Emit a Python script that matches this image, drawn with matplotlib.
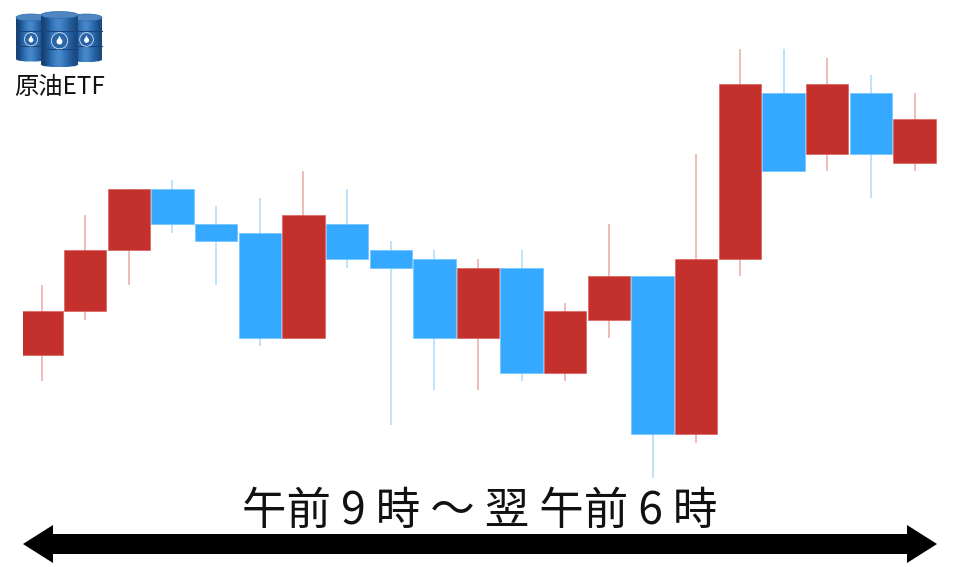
import numpy as np
import matplotlib
matplotlib.use('Agg')
import matplotlib.pyplot as plt
from matplotlib.patches import Rectangle, Polygon, Ellipse, PathPatch, Circle
from matplotlib.path import Path

plt.rcParams['font.family'] = ['Noto Sans CJK JP', 'DejaVu Sans']

# price levels (arbitrary units)
body_low  = [14, 19, 26, 29, 27, 16, 16, 25, 24, 16, 16, 12, 12, 18,  5,  5, 25, 35, 37, 37, 36]
body_high = [19, 26, 33, 33, 29, 28, 30, 29, 26, 25, 24, 24, 19, 23, 23, 25, 45, 44, 45, 44, 41]
wick_low  = [11, 18, 22, 28, 22, 15, 16, 24,  6, 10, 10, 11, 11, 16,  0,  4, 23, 35, 35, 32, 35]
wick_high = [22, 30, 33, 34, 31, 32, 35, 33, 27, 26, 25, 26, 20, 29, 23, 37, 49, 49, 48, 46, 44]
kinds     = ['r','r','r','b','b','b','r','b','b','b','r','b','r','r','b','r','r','b','r','b','r']
title_text = '午前 9 時 ～ 翌 午前 6 時'
icon_label = '原油ETF'

RED, BLUE = '#C4302B', '#35A9FF'
WICK = {'r': '#E8A9A6', 'b': '#A8DDFB'}
FILL = {'r': RED, 'b': BLUE}
EDGE = {'r': '#D9605C', 'b': '#6FC2FF'}

W, H = 960, 567
fig = plt.figure(figsize=(W/100, H/100), dpi=100, facecolor='white')

def axes_px(x0, y0, x1, y1, **kw):
    return fig.add_axes([x0/W, 1-y1/H, (x1-x0)/W, (y1-y0)/H], **kw)

# candle axes: left edge at 23 px trims the first body, as in the reference
step = 43.65
first = 41.5
unit = 8.75
base = 477.5
ax = axes_px(23, 0, W, H)
ax.set_xlim((23-first)/step, (W-first)/step)
ax.set_ylim((base-H)/unit, base/unit)
ax.axis('off')
xs = np.arange(len(kinds))
for x, lo, hi, wl, wh, k in zip(xs, body_low, body_high, wick_low, wick_high, kinds):
    ax.plot([x, x], [wl, wh], color=WICK[k], lw=1.1, solid_capstyle='butt', zorder=1)
    ax.add_patch(Rectangle((x-0.485, lo), 0.97, hi-lo, facecolor=FILL[k], edgecolor=EDGE[k], lw=0.5, zorder=2))

ov = axes_px(0, 0, W, H)
ov.set_xlim(0, W); ov.set_ylim(H, 0); ov.axis('off'); ov.patch.set_alpha(0)

ov.text(480, 510.5, title_text, ha='center', va='center', fontsize=32, color='#111111')
ov.text(59.5, 87, icon_label, ha='center', va='center', fontsize=17.5, color='#111111')

ov.add_patch(Polygon([(23, 544), (53, 525), (53, 534), (907, 534), (907, 525), (937, 544),
                      (907, 563), (907, 554), (53, 554), (53, 563)], closed=True,
                     facecolor='black', edgecolor='none'))

grad = np.array([[0.0, 0.35, 0.75, 1.0, 0.6, 0.35, 0.1]])
cmap = matplotlib.colors.LinearSegmentedColormap.from_list('b', ['#163F73', '#2C6CB0', '#4C8FD0'])

def barrel(x0, x1, top, bot, z):
    cx = (x0+x1)/2; rx = (x1-x0)/2; ry = 3.5
    verts = [(x0, top), (x1, top), (x1, bot), (cx+rx, bot+ry), (cx-rx, bot+ry), (x0, bot), (x0, top)]
    codes = [Path.MOVETO, Path.LINETO, Path.LINETO, Path.CURVE4, Path.CURVE4, Path.CURVE4, Path.CLOSEPOLY]
    p = PathPatch(Path(verts, codes), transform=ov.transData, facecolor='none', edgecolor='none', zorder=z)
    ov.add_patch(p)
    im = ov.imshow(grad, cmap=cmap, extent=(x0, x1, bot+ry+1, top-1), aspect='auto', zorder=z, interpolation='bicubic')
    im.set_clip_path(p)
    ov.add_patch(Ellipse((cx, top), x1-x0, 2*ry, facecolor='#4F86C0', edgecolor='#2C6CB0', lw=0.5, zorder=z+0.1))
    for f in (0.33, 0.68):
        y = top + f*(bot-top)
        ov.plot([x0, x1], [y, y], color='#17467F', lw=0.8, zorder=z+0.1)
    cy = (top+bot)/2 + 1
    ov.add_patch(Circle((cx, cy), rx*0.44, facecolor='#2A65A8', edgecolor='#CFE2F3', lw=0.6, zorder=z+0.2))
    ov.add_patch(Circle((cx, cy+0.8), rx*0.16, facecolor='white', edgecolor='none', zorder=z+0.3))
    ov.add_patch(Polygon([(cx, cy-rx*0.28), (cx-rx*0.13, cy+0.4), (cx+rx*0.13, cy+0.4)],
                         facecolor='white', edgecolor='none', zorder=z+0.3))

barrel(16, 46, 17.5, 59, 3)
barrel(71, 102, 17.5, 59.5, 3)
barrel(41, 78, 15, 64.5, 5)
ov.set_xlim(0, W); ov.set_ylim(H, 0)

fig.savefig('out.png', dpi=100, facecolor='white')
